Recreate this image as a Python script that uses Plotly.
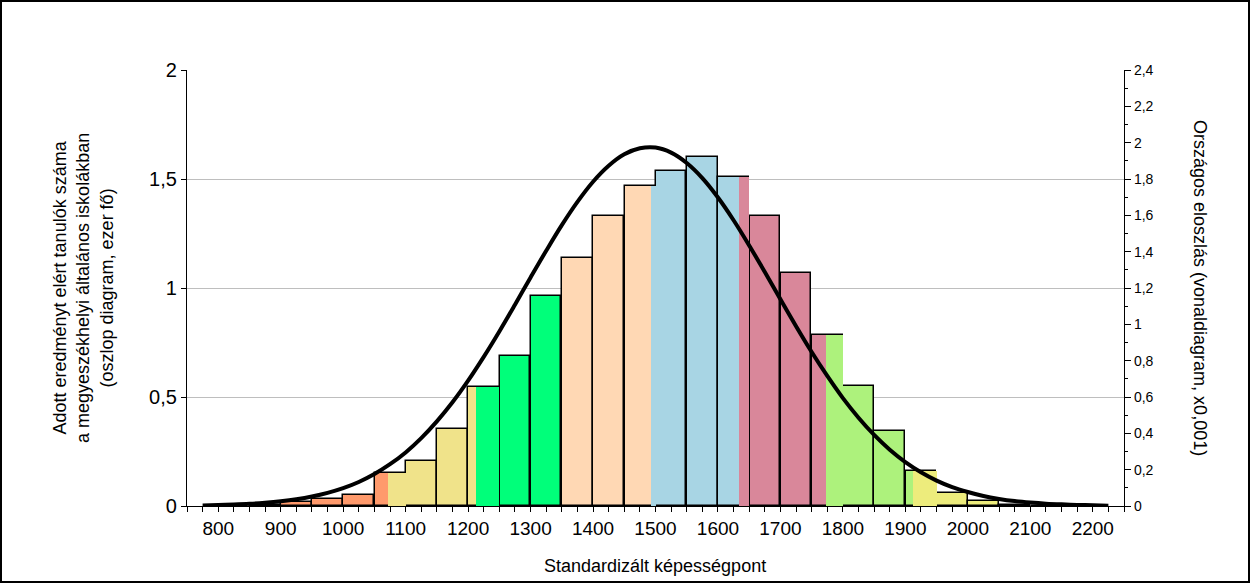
import plotly.graph_objects as go

# histogram bins (left edge, 50 wide) and number of students (thousand)
bin_left = [850, 900, 950, 1000, 1050, 1100, 1150, 1200, 1250, 1300, 1350, 1400, 1450,
            1500, 1550, 1600, 1650, 1700, 1750, 1800, 1850, 1900, 1950, 2000, 2050, 2100]
bin_value = [0.004, 0.017, 0.034, 0.049, 0.150, 0.205, 0.353, 0.544, 0.687, 0.962, 1.136, 1.329, 1.466,
             1.535, 1.601, 1.508, 1.329, 1.067, 0.783, 0.549, 0.343, 0.161, 0.058, 0.022, 0.004, 0.002]
bin_color = ["#FF9A6C"] * 5 + ["#F0E38A"] * 3 + ["#00FF7A"] * 2 + ["#FFD8B4"] * 3 + \
            ["#A8D5E4"] * 3 + ["#D9879A"] * 3 + ["#ADF27C"] * 3 + ["#EDEC7C"] * 4

# level boundaries falling inside a bin -> part of the bin in the next level colour
split_start = [1072, 1213, 1492, 1633, 1773, 1913]
split_end = [1100, 1250, 1500, 1650, 1800, 1950]
split_value = [0.150, 0.544, 1.466, 1.508, 0.783, 0.161]
split_color = ["#F0E38A", "#00FF7A", "#A8D5E4", "#D9879A", "#ADF27C", "#EDEC7C"]

# national distribution (x0,001), read every 25 points
curve_x = list(range(775, 2226, 25))
curve_y = [0.003, 0.005, 0.008, 0.012, 0.018, 0.026, 0.037, 0.052, 0.072, 0.098,
           0.132, 0.176, 0.23, 0.295, 0.374, 0.466, 0.571, 0.69, 0.821, 0.961,
           1.108, 1.258, 1.405, 1.546, 1.674, 1.785, 1.873, 1.936, 1.969, 1.973,
           1.945, 1.888, 1.805, 1.698, 1.573, 1.434, 1.288, 1.138, 0.99, 0.848,
           0.716, 0.594, 0.486, 0.391, 0.31, 0.242, 0.186, 0.14, 0.104, 0.077,
           0.055, 0.039, 0.027, 0.019, 0.013, 0.009, 0.006, 0.004, 0.002]

FONT = "Liberation Sans, Arial, sans-serif"

fig = go.Figure()
fig.add_trace(go.Bar(
    x=[b + 25 for b in bin_left], y=bin_value, width=49,
    marker=dict(color=bin_color, line=dict(color="black", width=1.5)),
    showlegend=False, hoverinfo="x+y",
))
fig.add_trace(go.Bar(
    x=[(s + e) / 2 for s, e in zip(split_start, split_end)], y=split_value,
    width=[e - s for s, e in zip(split_start, split_end)],
    marker=dict(color=split_color, line=dict(width=0)),
    showlegend=False, hoverinfo="y",
))
fig.add_trace(go.Scatter(
    x=curve_x, y=curve_y, yaxis="y2", mode="lines",
    line=dict(color="black", width=4, shape="spline"),
    showlegend=False,
))

W, H = 1250, 583
L, R, T, B = 187, 126, 70, 77
pw, ph = W - L - R, H - T - B

fig.update_layout(
    width=W, height=H,
    margin=dict(l=L, r=R, t=T, b=B),
    paper_bgcolor="white", plot_bgcolor="white",
    barmode="overlay", bargap=0,
    separators=", ",
    font=dict(family=FONT, color="black"),
    xaxis=dict(
        range=[750, 2250], tickmode="linear", tick0=800, dtick=100,
        ticks="outside", ticklen=5, tickcolor="black",
        minor=dict(dtick=25, tick0=775, ticks="outside", ticklen=5, tickcolor="black"),
        showline=True, linecolor="black", linewidth=1.3,
        showgrid=False, zeroline=False,
        tickfont=dict(size=19, family=FONT),
    ),
    yaxis=dict(
        range=[0, 2], tickmode="linear", tick0=0, dtick=0.5,
        ticks="outside", ticklen=5, tickcolor="black",
        showline=True, linecolor="black", linewidth=1.3,
        showgrid=True, gridcolor="#BEBEBE", gridwidth=1, zeroline=False,
        tickfont=dict(size=20, family=FONT),
    ),
    yaxis2=dict(
        range=[0, 2.4], overlaying="y", side="right",
        tickmode="linear", tick0=0, dtick=0.2,
        ticks="outside", ticklen=6, tickcolor="black",
        minor=dict(dtick=0.1, ticks="outside", ticklen=3, tickcolor="black"),
        showline=True, linecolor="black", linewidth=1.3,
        showgrid=False, zeroline=False,
        tickfont=dict(size=14, family=FONT),
    ),
    annotations=[
        dict(text="Adott eredményt elért tanulók száma<br>a megyeszékhelyi általános iskolákban<br>(oszlop diagram, ezer fő)",
             xref="paper", yref="paper", x=(83 - L) / pw, y=0.5, xanchor="center", yanchor="middle",
             textangle=-90, showarrow=False, font=dict(size=18, family=FONT)),
        dict(text="Országos eloszlás (vonaldiagram, x0,001)",
             xref="paper", yref="paper", x=(1200 - L) / pw, y=0.5, xanchor="center", yanchor="middle",
             textangle=90, showarrow=False, font=dict(size=18, family=FONT)),
        dict(text="Standardizált képességpont",
             xref="paper", yref="paper", x=(655 - L) / pw, y=-(566 - (H - B)) / ph,
             xanchor="center", yanchor="middle", showarrow=False, font=dict(size=18, family=FONT)),
    ],
    shapes=[
        dict(type="rect", xref="paper", yref="paper",
             x0=-(L - 1) / pw, x1=1 + (R - 1) / pw, y0=-(B - 1) / ph, y1=1 + (T - 1) / ph,
             line=dict(color="black", width=2), fillcolor="rgba(0,0,0,0)", layer="above"),
    ],
)

# page margin would push the figure 8px off the window
fig.write_html("out.html", config={"displayModeBar": False},
               post_script="document.body.style.margin='0';")
